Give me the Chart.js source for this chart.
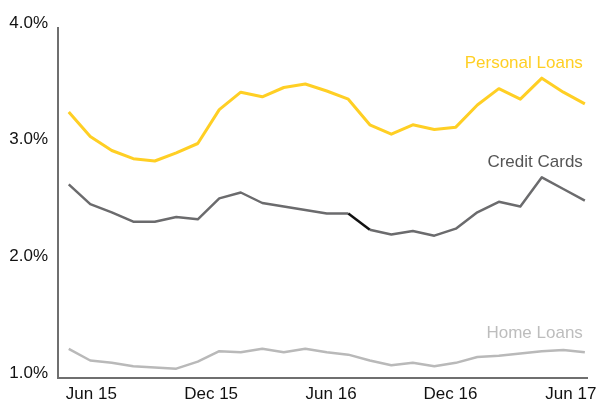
<!DOCTYPE html>
<html>
<head>
<meta charset="utf-8">
<script src="https://cdn.jsdelivr.net/npm/chart.js@4"></script>
<style>
html,body{margin:0;padding:0;background:#fff;}
#wrap{width:598px;height:400px;position:relative;}
</style>
</head>
<body>
<div id="wrap"><canvas id="c" width="598" height="400"></canvas></div>
<script>
// Monthly points, Jun 15 .. Jun 17 (25 months)
const personalLoans = [3.28,3.07,2.95,2.88,2.86,2.93,3.01,3.30,3.45,3.41,3.49,3.52,3.46,3.39,3.17,3.09,3.17,3.13,3.15,3.34,3.48,3.39,3.57,3.45,3.35];
const creditCards   = [2.66,2.49,2.42,2.34,2.34,2.38,2.36,2.54,2.59,2.50,2.47,2.44,2.41,2.41,2.27,2.23,2.26,2.22,2.28,2.42,2.51,2.47,2.72,2.62,2.52];
const homeLoans     = [1.25,1.15,1.13,1.10,1.09,1.08,1.14,1.23,1.22,1.25,1.22,1.25,1.22,1.20,1.15,1.11,1.13,1.10,1.13,1.18,1.19,1.21,1.23,1.24,1.22];
const xTickLabels = ['Jun 15','Dec 15','Jun 16','Dec 16','Jun 17'];
const xTickPositions = [1.05, 6.62, 12.2, 17.75, 23.35];
const yTicks = [1.0, 2.0, 3.0, 4.0];
const seriesNames = ['Personal Loans','Credit Cards','Home Loans'];
const seriesLabelValues = [3.70, 2.85, 1.386];
const darkSegmentIndex = 13;

const colors = ['#FFCF24','#6B6B6D','#B9B9B9'];
const labelColors = ['#FFCF24','#555555','#BDBDBD'];
const widths = [3,2.5,2.5];
const FONT = "'Liberation Sans', Arial, sans-serif";

const toPts = arr => arr.map((v,i)=>({x:i,y:v}));
const allSeries = [personalLoans, creditCards, homeLoans];

const labelPlugin = {
  id:'seriesLabels',
  afterDatasetsDraw(chart){
    const {ctx, scales:{x,y}} = chart;
    ctx.save();
    ctx.font = '17px ' + FONT;
    ctx.textAlign = 'right';
    ctx.textBaseline = 'middle';
    const xr = x.getPixelForValue(personalLoans.length-1) - 2;
    seriesNames.forEach((n,i)=>{
      ctx.fillStyle = labelColors[i];
      ctx.fillText(n, xr, y.getPixelForValue(seriesLabelValues[i]));
    });
    ctx.restore();
  }
};

new Chart(document.getElementById('c'), {
  type:'line',
  data:{
    datasets: allSeries.map((s,i)=>({
      label: seriesNames[i],
      data: toPts(s),
      borderColor: colors[i],
      borderWidth: widths[i],
      pointRadius: 0,
      tension: 0,
      fill:false,
      borderJoinStyle:'round',
      segment: i===1 ? { borderColor: c => c.p0DataIndex===darkSegmentIndex ? '#111111' : undefined } : undefined
    }))
  },
  options:{
    responsive:false,
    animation:false,
    layout:{padding:{top:28,right:11,left:0,bottom:0}},
    plugins:{legend:{display:false}, tooltip:{enabled:false}},
    scales:{
      x:{
        type:'linear',
        min:-0.5, max:24.1,
        grid:{display:false, drawTicks:false},
        border:{display:true, color:'#6f6f6f', width:2},
        afterBuildTicks(scale){ scale.ticks = xTickPositions.map(v=>({value:v})); },
        afterFit(scale){ scale.height = 22; scale.paddingLeft = 0; scale.paddingRight = 0; },
        ticks:{
          autoSkip:false, maxRotation:0, padding:6,
          color:'#111', font:{family:FONT, size:17},
          callback:(v,i)=>xTickLabels[i]
        }
      },
      y:{
        min:1.0, max:4.0,
        grid:{display:false, drawTicks:false},
        border:{display:true, color:'#6f6f6f', width:2},
        afterBuildTicks(scale){ scale.ticks = yTicks.map(v=>({value:v})); },
        afterFit(scale){ scale.width = 58; scale.paddingTop = 0; scale.paddingBottom = 0; },
        ticks:{
          padding:10, labelOffset:-5,
          color:'#111', font:{family:FONT, size:17},
          callback:v=>v.toFixed(1)+'%'
        }
      }
    }
  },
  plugins:[labelPlugin]
});
</script>
</body>
</html>
